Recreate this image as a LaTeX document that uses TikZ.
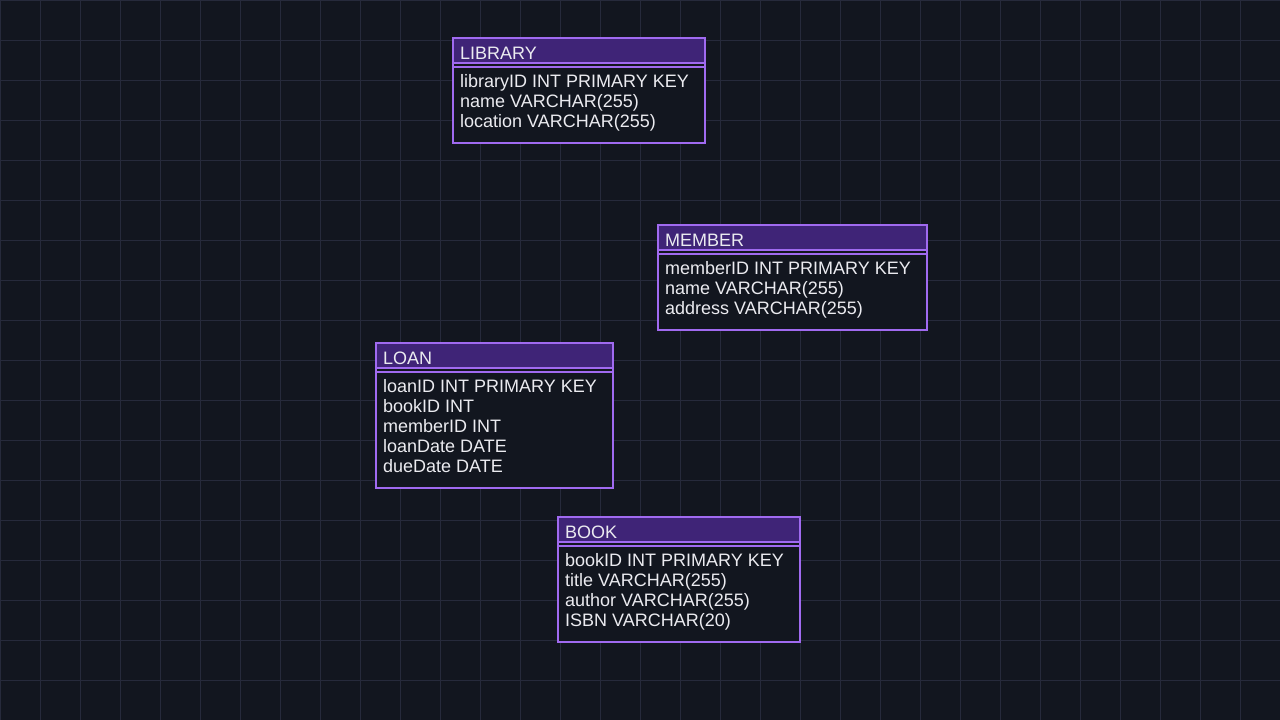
\documentclass[tikz,border=0pt]{standalone}
\usepackage{fontspec}
\setmainfont{Liberation Sans}
\tikzset{%
  gridline/.style={draw=gridc,line width=1pt},
  edge/.style={draw=edgec,line width=2pt},
  titletext/.style={text=txtc,font=\fontsize{18}{20}\selectfont,inner sep=0pt,anchor=base west},
  rowtext/.style={text=txtc,font=\fontsize{18}{20}\selectfont,inner sep=0pt,anchor=base west}
}
\definecolor{bgc}{HTML}{12161F}
\definecolor{gridc}{HTML}{262A3B}
\definecolor{hdrc}{HTML}{3F2477}
\definecolor{edgec}{HTML}{A06AF0}
\definecolor{txtc}{HTML}{EBEBF0}
% name, x, y, width, height, title, rows
\NewDocumentCommand\entity{m m m m m m m}{%
  \draw[edge,fill=bgc] (#2,#3) rectangle ++(#4,#5);
  \draw[edge,fill=hdrc] (#2,#3) rectangle ++(#4,25);
  \draw[edge] (#2,#3+29) -- ++(#4,0);
  \node[titletext] (#1) at (#2+7,#3+21) {#6};
  \foreach \t [count=\i] in {#7}
    \node[rowtext] (#1-\i) at (#2+7,#3+29+20*\i) {\t};
}

\begin{document}
\begin{tikzpicture}[x=1pt,y=-1pt]
  \fill[bgc] (0,0) rectangle (1280,720);
  \useasboundingbox (0,0) rectangle (1280,720);
  \foreach \gx in {0,40,...,1280} \draw[gridline] (\gx,0) -- (\gx,720);
  \foreach \gy in {0,40,...,720} \draw[gridline] (0,\gy) -- (1280,\gy);
  %%
  \entity{library}{453}{38}{252}{105}{LIBRARY}%
    {libraryID INT PRIMARY KEY,name VARCHAR(255),location VARCHAR(255)}
  \entity{member}{658}{225}{269}{105}{MEMBER}%
    {memberID INT PRIMARY KEY,name VARCHAR(255),address VARCHAR(255)}
  \entity{loan}{376}{343}{237}{145}{LOAN}%
    {loanID INT PRIMARY KEY,bookID INT,memberID INT,loanDate DATE,dueDate DATE}
  \entity{book}{558}{517}{242}{125}{BOOK}%
    {bookID INT PRIMARY KEY,title VARCHAR(255),author VARCHAR(255),ISBN VARCHAR(20)}
\end{tikzpicture}
\end{document}
